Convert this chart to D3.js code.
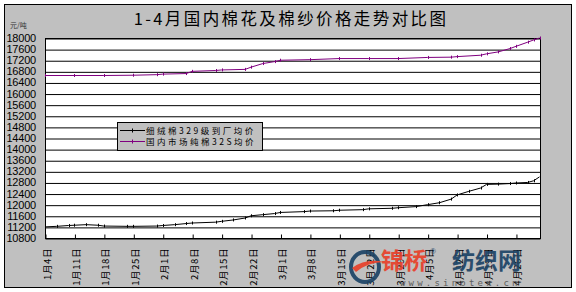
<!DOCTYPE html>
<html>
<head>
<meta charset="utf-8">
<script src="https://cdn.jsdelivr.net/npm/d3@7"></script>
<style>
  body { margin: 0; background: #fff; }
  svg { display: block; }
  .axis text { font-family: "Liberation Sans", sans-serif; }
</style>
</head>
<body>
<div class="vis-holder"></div>
<script>
// chart title + legend names
const TITLE = '1-4月国内棉花及棉纱价格走势对比图';
const UNIT = '元/吨';
const seriesNames = ['细绒棉329级到厂均价', '国内市场纯棉32S均价'];

// y ticks
const yTicks = d3.range(10800, 18001, 400);

// weekly x labels (Mondays)
const xLabels = ['1/4', '1/11', '1/18', '1/25', '2/1', '2/8', '2/15', '2/22', '3/1',
                 '3/8', '3/15', '3/22', '3/29', '4/5', '4/12', '4/19', '4/26'];

// 细绒棉329级 (black)
const cottonDates = ['1/4', '1/6', '1/8', '1/11', '1/13', '1/15', '1/18', '1/22', '1/25', '1/29',
                     '2/1', '2/3', '2/5', '2/8', '2/12', '2/15', '2/17', '2/19', '2/22', '2/24',
                     '2/26', '3/1', '3/5', '3/8', '3/12', '3/15', '3/19', '3/22', '3/26', '3/29',
                     '4/1', '4/5', '4/7', '4/9', '4/12', '4/14', '4/16', '4/19', '4/21', '4/23',
                     '4/26', '4/28', '4/29', '4/30'];
const cottonValues = [11200, 11220, 11250, 11260, 11280, 11260, 11230, 11220, 11220, 11230,
                      11250, 11280, 11320, 11340, 11370, 11400, 11450, 11520, 11600, 11640,
                      11680, 11720, 11750, 11770, 11780, 11800, 11820, 11850, 11870, 11890,
                      11930, 12000, 12070, 12200, 12350, 12480, 12600, 12730, 12740, 12760,
                      12780, 12800, 12860, 13000];

// 纯棉32S (purple)
const yarnDates = ['1/4', '1/11', '1/18', '1/25', '1/29', '2/1', '2/5', '2/8', '2/12', '2/15',
                   '2/19', '2/22', '2/24', '2/26', '3/1', '3/8', '3/15', '3/22', '3/29', '4/5',
                   '4/9', '4/12', '4/16', '4/19', '4/21', '4/23', '4/26', '4/28', '4/29', '4/30'];
const yarnValues = [16650, 16650, 16650, 16660, 16680, 16700, 16720, 16800, 16830, 16850,
                    16870, 16950, 17080, 17150, 17200, 17220, 17260, 17260, 17260, 17300,
                    17310, 17330, 17380, 17430, 17500, 17620, 17700, 17850, 17930, 18000];

const COLORS = ['#000000', '#800080'];

function toKey(d) { return (d.getMonth() + 1) + '/' + d.getDate(); }
function toLabel(k) { const p = k.split('/'); return p[0] + '月' + p[1] + '日'; }

// trading days (weekdays) Jan 4 - Apr 30 as categories
const days = d3.timeDays(new Date(2010, 0, 4), new Date(2010, 4, 1))
    .filter(d => d.getDay() !== 0 && d.getDay() !== 6)
    .map(toKey);

const width = 576, height = 292;
const plot = {left: 45, top: 38, right: 540, bottom: 238};

const svg = d3.select('.vis-holder')
    .append('svg')
        .attr('width', width)
        .attr('height', height);

// grey frame
svg.append('rect')
    .attr('x', 4.5).attr('y', 4.5)
    .attr('width', 567).attr('height', 283)
    .attr('fill', '#c0c0c0')
    .attr('stroke', '#000');

svg.append('text')
    .attr('x', 291).attr('y', 25)
    .attr('text-anchor', 'middle')
    .style('font-family', '"Noto Sans CJK SC", sans-serif')
    .style('font-size', '16.5px')
    .style('letter-spacing', '2.4px')
    .text(TITLE);

svg.append('text')
    .attr('x', 10).attr('y', 28)
    .style('font-family', '"Noto Sans CJK SC", sans-serif')
    .style('font-size', '7px')
    .style('fill', '#333')
    .text(UNIT);

const xScale = d3.scalePoint()
    .domain(days)
    .range([plot.left, plot.right - 0.5]);

const yScale = d3.scaleLinear()
    .domain([10800, 18000])
    .range([plot.bottom, plot.top]);

svg.append('rect')
    .attr('x', plot.left + 0.5).attr('y', plot.top + 0.5)
    .attr('width', plot.right - plot.left).attr('height', plot.bottom - plot.top)
    .attr('fill', '#fff');

// gridlines
svg.append('g')
    .attr('transform', 'translate(' + (plot.left + 0.5) + ',0.5)')
    .call(d3.axisLeft(yScale).tickValues(yTicks).tickSize(-(plot.right - plot.left)).tickFormat(''))
    .call(g => g.select('.domain').remove())
    .selectAll('line').attr('stroke', '#000');

// y labels
svg.append('g')
    .attr('class', 'y axis')
    .attr('transform', 'translate(' + plot.left + ',0)')
    .call(d3.axisLeft(yScale).tickValues(yTicks).tickSize(0).tickPadding(9).tickFormat(d3.format('d')))
    .call(g => g.select('.domain').remove())
    .selectAll('text')
        .style('font-size', '11px')
        .style('letter-spacing', '-0.2px')
        .attr('fill', '#000');

// x axis, ticks point inward
const xAxis = svg.append('g')
    .attr('class', 'x axis')
    .attr('transform', 'translate(0,' + (plot.bottom + 0.5) + ')')
    .call(d3.axisBottom(xScale).tickValues(xLabels).tickSize(-4).tickFormat(toLabel));
xAxis.select('.domain').remove();
xAxis.selectAll('line').attr('stroke', '#000').attr('transform', 'translate(0.5,0)');
xAxis.selectAll('text')
    .attr('transform', 'rotate(-90)')
    .attr('text-anchor', 'end')
    .attr('x', -9.5)
    .attr('y', 5)
    .attr('dy', 0)
    .attr('fill', '#000')
    .style('font-family', '"Noto Sans CJK SC", sans-serif')
    .style('font-size', '9.5px')
    .style('letter-spacing', '0.6px');

// plot border
svg.append('rect')
    .attr('x', plot.left + 0.5).attr('y', plot.top + 0.5)
    .attr('width', plot.right - plot.left).attr('height', plot.bottom - plot.top)
    .attr('fill', 'none')
    .attr('stroke', '#000');

const series = [
    cottonDates.map((d, i) => ({date: d, value: cottonValues[i]})),
    yarnDates.map((d, i) => ({date: d, value: yarnValues[i]}))
];

const line = d3.line()
    .x(d => xScale(d.date))
    .y(d => yScale(d.value));

series.forEach((s, i) => {
    svg.append('path')
        .attr('d', line(s))
        .attr('fill', 'none')
        .attr('stroke', COLORS[i])
        .attr('stroke-width', 1);
    svg.append('g').selectAll('line')
        .data(s)
        .enter()
        .append('line')
            .attr('x1', d => Math.round(xScale(d.date)) + 0.5)
            .attr('x2', d => Math.round(xScale(d.date)) + 0.5)
            .attr('y1', d => yScale(d.value) - 1.5)
            .attr('y2', d => yScale(d.value) + 1.5)
            .attr('stroke', COLORS[i]);
});

// legend
const legend = svg.append('g').attr('transform', 'translate(117,122)');
legend.append('rect')
    .attr('x', 0.5).attr('y', 0.5)
    .attr('width', 145).attr('height', 28)
    .attr('fill', '#c0c0c0')
    .attr('stroke', '#000');
seriesNames.forEach((name, i) => {
    const cy = 8.5 + i * 11;
    legend.append('line')
        .attr('x1', 3).attr('x2', 28)
        .attr('y1', cy).attr('y2', cy)
        .attr('stroke', COLORS[i]);
    legend.append('line')
        .attr('x1', 15.5).attr('x2', 15.5)
        .attr('y1', cy - 2).attr('y2', cy + 2)
        .attr('stroke', COLORS[i]);
    legend.append('text')
        .attr('x', 29).attr('y', cy + 3)
        .style('font-family', '"Noto Sans CJK SC", sans-serif')
        .style('font-size', '8.5px')
        .style('letter-spacing', '2.5px')
        .text(name);
});

// watermark
const wm = svg.append('g').attr('opacity', 0.92);
wm.append('ellipse')
    .attr('cx', 365).attr('cy', 267)
    .attr('rx', 14).attr('ry', 15)
    .attr('fill', 'none')
    .attr('stroke', '#1d4466')
    .attr('stroke-width', 4);
wm.append('path')
    .attr('d', 'M352,268 Q366,258 384,262 Q368,262 356,272 Z')
    .attr('fill', '#e8402a');
wm.append('text')
    .attr('x', 381).attr('y', 269)
    .style('font-family', '"Noto Sans CJK SC", sans-serif')
    .style('font-size', '23px')
    .style('font-weight', 'bold')
    .attr('fill', '#e8402a')
    .text('锦桥');
wm.append('text')
    .attr('x', 430).attr('y', 254)
    .style('font-family', '"Liberation Sans", sans-serif')
    .style('font-size', '8px')
    .attr('fill', '#1d4466')
    .text('®');
wm.append('text')
    .attr('x', 452).attr('y', 269)
    .style('font-family', '"Noto Sans CJK SC", sans-serif')
    .style('font-size', '23px')
    .style('font-weight', 'bold')
    .attr('fill', '#1d4466')
    .text('纺织网');
wm.append('text')
    .attr('x', 400).attr('y', 286)
    .style('font-family', '"DejaVu Sans Mono", monospace')
    .style('font-size', '9px')
    .style('letter-spacing', '3.2px')
    .attr('fill', '#555')
    .text('www.sinotex.cn');
</script>
</body>
</html>
